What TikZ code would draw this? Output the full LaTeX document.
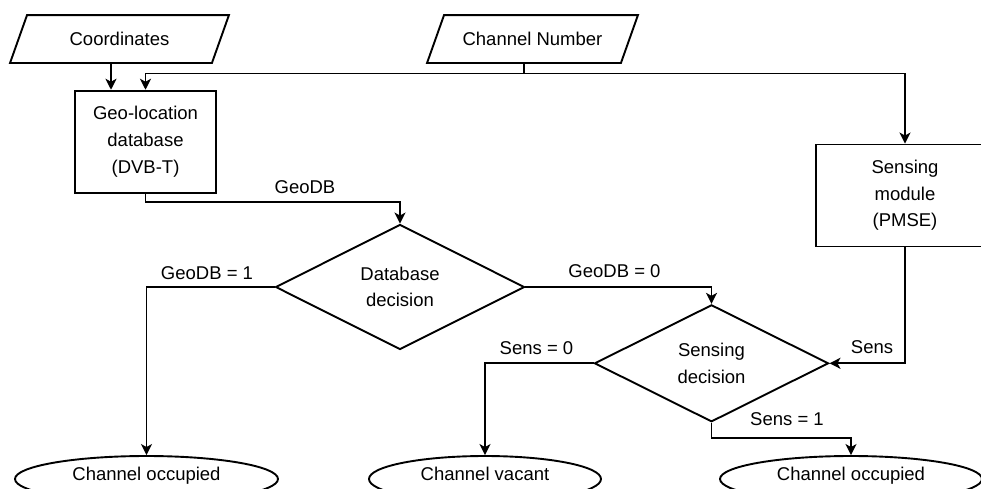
\documentclass[tikz,border=0pt]{standalone}
\usepackage{fontspec}
\setmainfont{Liberation Sans}
\usetikzlibrary{shapes.geometric,arrows.meta,calc}
\begin{document}
\begin{tikzpicture}[x=1pt,y=-1pt, line width=1.9pt, line join=miter,
  every node/.style={font=\fontsize{18.5}{26.6}\selectfont, align=center, inner sep=0pt},
  box/.style={draw, rectangle, inner sep=0pt},
  io/.style={rectangle, inner sep=0pt, minimum height=46pt},
  dec/.style={draw, diamond, inner sep=0pt},
  term/.style={draw, ellipse, inner sep=0pt, minimum height=46pt, text height=13pt, text depth=10pt},
  lbl/.style={text height=13.5pt, text depth=0pt},
  arr/.style={-{Stealth[length=11pt,width=11pt,inset=3pt]}}]
\useasboundingbox (0,0) rectangle (981,488);
\clip (0,0) rectangle (981,488);

% input parallelograms
\node[io, minimum width=200pt] (coord) at (119.5,39) {Coordinates};
\draw ($(coord.south west)+(-8.5,0)$) -- ($(coord.south east)+(-8.5,0)$) -- ($(coord.north east)+(8.5,0)$) -- ($(coord.north west)+(8.5,0)$) -- cycle;
\node[io, minimum width=192pt] (chan) at (532.5,39) {Channel Number};
\draw ($(chan.south west)+(-8.5,0)$) -- ($(chan.south east)+(-8.5,0)$) -- ($(chan.north east)+(8.5,0)$) -- ($(chan.north west)+(8.5,0)$) -- cycle;
\coordinate (cb) at ($(coord.south)+(-8.5,0)$);
\coordinate (chb) at ($(chan.south)+(-8.5,0)$);

% boxes
\node[box, minimum width=141pt, minimum height=102pt] (geo) at (145.5,141.7) {Geo-location\\database\\(DVB-T)};
\node[box, minimum width=178pt, minimum height=102pt] (sens) at (905,195.5) {Sensing\\module\\(PMSE)};

% decisions
\node[dec, minimum width=249pt, minimum height=125pt] (dbd) at (400,287) {Database\\decision};
\node[dec, minimum width=234pt, minimum height=117pt] (sd) at (711.5,363.3) {Sensing\\decision};

% terminals
\node[term, minimum width=263pt] (occa) at (146.5,479) {Channel occupied};
\node[term, minimum width=232pt] (vac) at (485,479) {Channel vacant};
\node[term, minimum width=262pt] (occb) at (851,479) {Channel occupied};

% connectors
\draw[arr] (cb) -- (cb |- geo.north);
\coordinate (jn) at ($(chb)+(0,10.5)$);
\draw (chb) -- (jn);
\draw[arr] (jn) -| (geo.north);
\draw[arr] (jn) -| (sens.north);
\draw[arr] (geo.south) -- ++(0,8.3) -| (dbd.north);
\draw[arr] (dbd.west) -| (occa.north);
\draw[arr] (dbd.east) -| (sd.north);
\draw[arr] (sens.south) |- (sd.east);
\draw[arr] (sd.west) -| (vac.north);
\draw[arr] (sd.south) -- ++(0,15) -| (occb.north);

% labels
\node[lbl] (lg) at (305,187) {GeoDB};
\node[lbl] (lg1) at (207,273) {GeoDB = 1};
\node[lbl] (lg0) at (614.5,270.7) {GeoDB = 0};
\node[lbl] (ls) at (872,346.7) {Sens};
\node[lbl] (ls0) at (536.5,347.7) {Sens = 0};
\node[lbl] (ls1) at (787,419) {Sens = 1};
\end{tikzpicture}
\end{document}
